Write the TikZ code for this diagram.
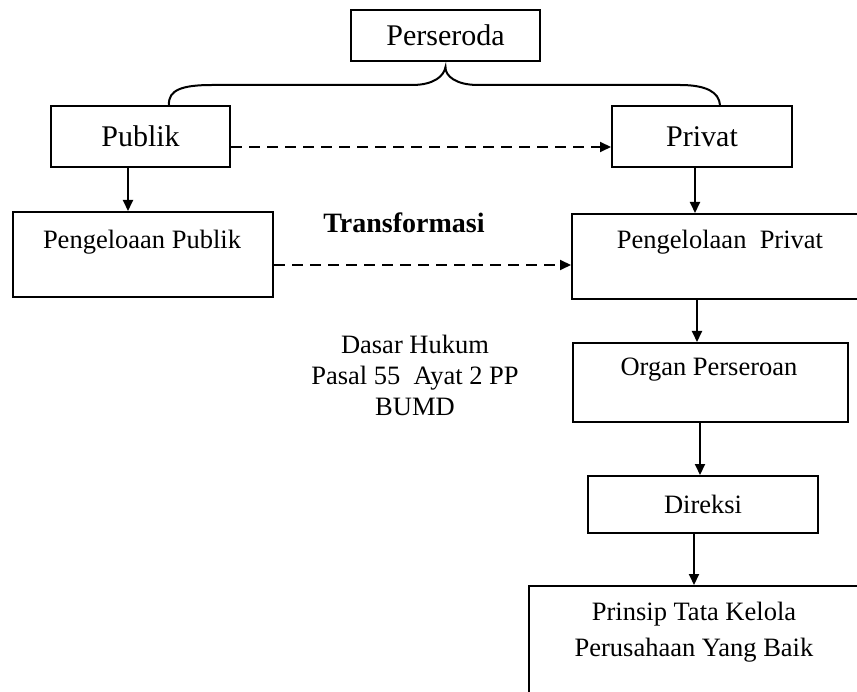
\documentclass[tikz,border=0pt]{standalone}
\usepackage{fontspec}
\setmainfont{Liberation Serif}
\usetikzlibrary{arrows.meta}
\begin{document}
\begin{tikzpicture}[x=1pt,y=-1pt, line width=2pt,
  box/.style={draw, line width=2pt, rectangle, inner sep=0pt, anchor=north west},
  arr/.style={-{Triangle[length=11pt,width=10pt]}, line width=2pt},
  darr/.style={arr, dash pattern=on 11pt off 7pt},
  big/.style={font=\fontsize{30}{34}\selectfont},
  txt/.style={font=\fontsize{26.5}{31}\selectfont, align=center, inner sep=0pt}]
\useasboundingbox (0,0) rectangle (857,692);

% boxes
\node[box, big, minimum width=189pt, minimum height=51pt] (perseroda) at (350,9) {Perseroda};
\node[box, big, minimum width=179pt, minimum height=61pt] (publik) at (50,105) {Publik};
\node[box, big, minimum width=180pt, minimum height=61pt] (privat) at (611,105) {Privat};
\node[box, minimum width=260pt, minimum height=85pt] (pubm) at (12,211) {};
\node[box, minimum width=300pt, minimum height=85pt] (privm) at (571,213) {};
\node[box, minimum width=275pt, minimum height=79pt] (organ) at (572,342) {};
\node[box, txt, minimum width=230pt, minimum height=57pt] (direksi) at (587,475) {Direksi};
\node[box, minimum width=350pt, minimum height=130pt] (prinsip) at (528,585) {};

% texts inside boxes
\node[txt] (tpubm) at (142,242) {Pengeloaan Publik};
\node[txt] (tprivm) at (720,242) {Pengelolaan\ \ Privat};
\node[txt] (torgan) at (709,370) {Organ Perseroan};
\node[txt, font=\fontsize{26.5}{36}\selectfont] (tprinsip) at (694,632) {Prinsip Tata Kelola\\Perusahaan Yang Baik};

% free texts
\node[txt, font=\bfseries\fontsize{28}{31}\selectfont] (transf) at (404,223) {Transformasi};
\node[txt] (dasar) at (415,375) {Dasar Hukum\\Pasal 55\ \ Ayat 2 PP\\BUMD};

% brace
\coordinate (bl) at ([xshift=28.5pt]publik.north);
\coordinate (br) at ([xshift=18pt]privat.north);
\coordinate (bt) at ([yshift=-5pt]perseroda.south);
\draw[line width=2pt] (bl) .. controls (168,90) and (182,85) .. (212,85) -- (412,85)
  .. controls (434,85) and (444,76) .. (bt)
  .. controls (445,76) and (456,85) .. (478,85) -- (680,85)
  .. controls (706,85) and (719,92) .. (br);

% dashed transformations
\draw[darr] ([yshift=-10.5pt]publik.east) -- ([yshift=-10.5pt]privat.west);
\draw[darr] ([yshift=-10.5pt]pubm.east) -- ([yshift=-8.5pt]privm.west);

% vertical arrows
\coordinate (a1) at ([xshift=-12.5pt]publik.south);
\draw[arr] (a1) -- (a1 |- pubm.north);
\coordinate (a2) at ([xshift=-7pt]privat.south);
\draw[arr] (a2) -- (a2 |- privm.north);
\coordinate (a3) at ([xshift=-25pt]privm.south);
\draw[arr] (a3) -- (a3 |- organ.north);
\coordinate (a4) at ([xshift=-10.5pt]organ.south);
\draw[arr] (a4) -- (a4 |- direksi.north);
\coordinate (a5) at ([xshift=-9pt]direksi.south);
\draw[arr] (a5) -- (a5 |- prinsip.north);
\end{tikzpicture}
\end{document}
